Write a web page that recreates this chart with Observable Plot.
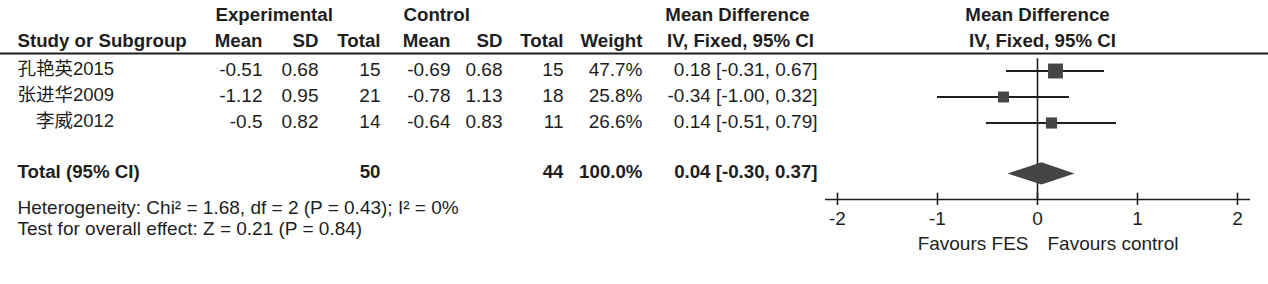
<!DOCTYPE html>
<html>
<head>
<meta charset="utf-8">
<script src="https://cdn.jsdelivr.net/npm/d3@7"></script>
<script src="https://cdn.jsdelivr.net/npm/@observablehq/plot@0.6"></script>
<style>
  html, body { margin: 0; padding: 0; background: #fff; }
  #chart svg { display: block; }
</style>
</head>
<body>
<div id="chart"></div>
<script>
// ---- data ----
const studies   = ["孔艳英2015", "张进华2009", "\u3000李威2012"];
const expMean   = [-0.51, -1.12, -0.5];
const expSD     = [0.68, 0.95, 0.82];
const expN      = [15, 21, 14];
const ctrlMean  = [-0.69, -0.78, -0.64];
const ctrlSD    = [0.68, 1.13, 0.83];
const ctrlN     = [15, 18, 11];
const weights   = [47.7, 25.8, 26.6];
const md        = [0.18, -0.34, 0.14];
const ciLow     = [-0.31, -1.00, -0.51];
const ciHigh    = [0.67, 0.32, 0.79];

const totalLabel = "Total (95% CI)";
const totalExpN = 50;
const totalCtrlN = 44;
const totalWeight = 100.0;
const totalMD = 0.04, totalLow = -0.30, totalHigh = 0.37;

const heterogeneityText = "Heterogeneity: Chi² = 1.68, df = 2 (P = 0.43); I² = 0%";
const overallText = "Test for overall effect: Z = 0.21 (P = 0.84)";
const header1 = ["Experimental", "Control", "Mean Difference", "Mean Difference"];
const header2 = ["Study or Subgroup", "Mean", "SD", "Total", "Mean", "SD", "Total", "Weight", "IV, Fixed, 95% CI", "IV, Fixed, 95% CI"];
const axisTicks = [-2, -1, 0, 1, 2];
const favoursLeft = "Favours FES";
const favoursRight = "Favours control";

// ---- layout (row units on y scale, pixel columns) ----
const ROW = { h1: -1.08, h2: -0.09, hline: 0.327, zeroTop: 0.53, total: 4.94, axis: 5.94, het: 6.31, test: 7.12, fav: 7.72 };
const TDY = -1.5;
const h1Pos = [[215, "start"], [403, "start"], [737, "middle"], [1037, "middle"]];
const h2Pos = [[17, "start"], [262, "end"], [318, "end"], [380, "end"], [450, "end"], [502, "end"], [563, "end"], [642, "end"], [740, "middle"], [1042, "middle"]];

const f2 = v => v.toFixed(2);
const rows = studies.map((s, i) => ({
  idx: i + 1, name: s,
  em: String(expMean[i]), es: String(expSD[i]), en: String(expN[i]),
  cm: String(ctrlMean[i]), cs: String(ctrlSD[i]), cn: String(ctrlN[i]),
  w: weights[i].toFixed(1) + "%",
  ci: `${f2(md[i])} [${f2(ciLow[i])}, ${f2(ciHigh[i])}]`,
  md: md[i], lo: ciLow[i], hi: ciHigh[i], weight: weights[i]
}));

const cols = [
  ["name", 17, "start"], ["em", 262, "end"], ["es", 318, "end"], ["en", 380, "end"],
  ["cm", 450, "end"], ["cs", 502, "end"], ["cn", 563, "end"], ["w", 642, "end"], ["ci", 817, "end"]
];

const totalRow = [{
  name: totalLabel, en: String(totalExpN), cn: String(totalCtrlN),
  w: totalWeight.toFixed(1) + "%", ci: `${f2(totalMD)} [${f2(totalLow)}, ${f2(totalHigh)}]`
}];
const totalCols = [["name", 17, "start"], ["en", 380, "end"], ["cn", 563, "end"], ["w", 642, "end"], ["ci", 817, "end"]];

const dh = 0.43;
const diamond = [
  { x: totalLow, y: ROW.total }, { x: totalMD, y: ROW.total - dh },
  { x: totalHigh, y: ROW.total }, { x: totalMD, y: ROW.total + dh }
];

const FONT = '"Liberation Sans", Arial, "Noto Sans CJK SC", sans-serif';
const FS = 19;     // regular text
const FB = 18.7;   // bold text
const ink = "#1e1e1e";

const textMarks = [];
for (const [k, px, anchor] of cols) {
  textMarks.push(Plot.text(rows, { y: "idx", text: k, frameAnchor: "left", dx: px, dy: TDY, textAnchor: anchor, fontSize: k === "name" ? 18.5 : FS }));
}
for (const [k, px, anchor] of totalCols) {
  textMarks.push(Plot.text(totalRow, { y: () => ROW.total, text: k, frameAnchor: "left", dx: px, dy: TDY, textAnchor: anchor, fontSize: FB, fontWeight: "bold" }));
}
header1.forEach((t, i) => textMarks.push(Plot.text([t], { y: () => ROW.h1, text: d => d, frameAnchor: "left", dx: h1Pos[i][0], dy: TDY, textAnchor: h1Pos[i][1], fontSize: FB, fontWeight: "bold" })));
header2.forEach((t, i) => textMarks.push(Plot.text([t], { y: () => ROW.h2, text: d => d, frameAnchor: "left", dx: h2Pos[i][0], dy: TDY, textAnchor: h2Pos[i][1], fontSize: FB, fontWeight: "bold" })));
textMarks.push(Plot.text([heterogeneityText], { y: () => ROW.het, text: d => d, frameAnchor: "left", dx: 17, dy: TDY, textAnchor: "start", fontSize: FS }));
textMarks.push(Plot.text([overallText], { y: () => ROW.test, text: d => d, frameAnchor: "left", dx: 17, dy: TDY, textAnchor: "start", fontSize: FS }));
textMarks.push(Plot.text([favoursLeft], { x: () => -0.09, y: () => ROW.fav, text: d => d, dy: TDY, textAnchor: "end", fontSize: FS }));
textMarks.push(Plot.text([favoursRight], { x: () => 0.10, y: () => ROW.fav, text: d => d, dy: TDY, textAnchor: "start", fontSize: FS }));

const chart = Plot.plot({
  width: 1268,
  height: 284,
  marginLeft: 0, marginRight: 0, marginTop: 0, marginBottom: 91,
  style: { fontFamily: FONT, fontSize: FS + "px", color: ink, background: "#fff" },
  x: { domain: [-2, 2], range: [837, 1237] },
  y: { type: "linear", domain: [1, 2], range: [70.5, 96.5] },
  r: { type: "sqrt", domain: [0, 47.7], range: [0, 8.4] },
  marks: [
    Plot.ruleY([ROW.hline], { stroke: ink, strokeWidth: 2 }),
    Plot.ruleX([0], { y1: ROW.zeroTop, y2: ROW.axis, stroke: ink, strokeWidth: 1.6 }),
    Plot.ruleY(rows, { y: "idx", x1: "lo", x2: "hi", stroke: ink, strokeWidth: 2 }),
    Plot.dot(rows, { x: "md", y: "idx", r: "weight", symbol: "square", fill: "#454545", stroke: "none" }),
    Plot.line(diamond, { x: "x", y: "y", fill: "#454545", stroke: "none" }),
    Plot.ruleY([ROW.axis], { x1: -2.12, x2: 2.13, stroke: ink, strokeWidth: 1.6 }),
    Plot.ruleX(axisTicks, { x: d => d, y1: ROW.axis - 0.24, y2: ROW.axis, stroke: ink, strokeWidth: 1.6 }),
    Plot.axisX({ ticks: axisTicks, tickFormat: d => String(d), tickSize: 6, tickPadding: 6, stroke: ink, strokeWidth: 1.6, fontSize: FS, label: null, anchor: "bottom", dy: 6 }),
    ...textMarks
  ]
});
document.getElementById("chart").appendChild(chart);
</script>
</body>
</html>
